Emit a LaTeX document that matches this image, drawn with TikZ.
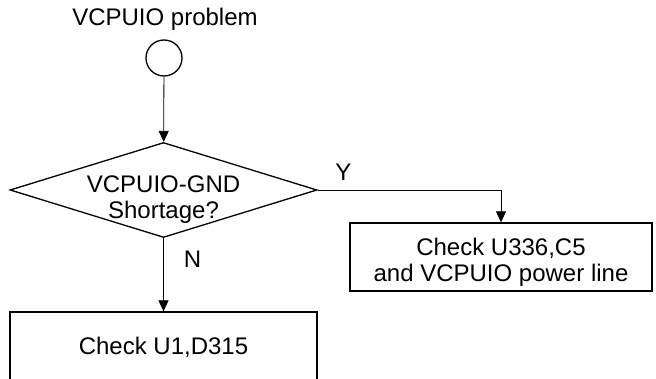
\documentclass[tikz,border=0pt]{standalone}
\usepackage{fontspec}
\setmainfont{Liberation Sans}
\usetikzlibrary{arrows.meta,shapes.geometric}

\begin{document}
\begin{tikzpicture}[x=1pt,y=-1pt,>={Triangle[length=11pt,width=10pt]},
  font=\fontsize{24}{26.5}\selectfont,
  shapeline/.style={draw,line width=1.3pt},
  flow/.style={->,line width=0.8pt},
  start/.style={shapeline,circle,minimum size=36pt,inner sep=0pt},
  decision/.style={shapeline,diamond,aspect=3.2,inner sep=-10pt,minimum width=307pt,minimum height=95pt,align=center},
  process/.style={shapeline,rectangle,inner sep=2pt,align=center},
  tag/.style={inner sep=1pt}]
\useasboundingbox (0,0) rectangle (656,379);
% start of the flow
\node[start] (start) at (164,58) {};
\node (title) at (165,19) {VCPUIO problem};
% question
\node[decision] (gnd) at (163.5,190) {\rule{0pt}{36pt}VCPUIO-GND\\Shortage?};
% answers
\node[process,minimum width=302pt,minimum height=68pt] (u336) at (501,257) {\rule{0pt}{28pt}Check U336,C5\\and VCPUIO power line};
\node[process,minimum width=307pt,minimum height=70pt] (u1) at (163.5,347) {Check U1,D315};
\draw[flow] (start) -- (gnd);
\draw[flow] (gnd.east) -| node[tag,pos=0.07,above=8pt]{Y} (u336.north);
\draw[flow] (gnd.south) -- node[tag,pos=0.29,right=19pt]{N} (u1.north);
\end{tikzpicture}
\end{document}
